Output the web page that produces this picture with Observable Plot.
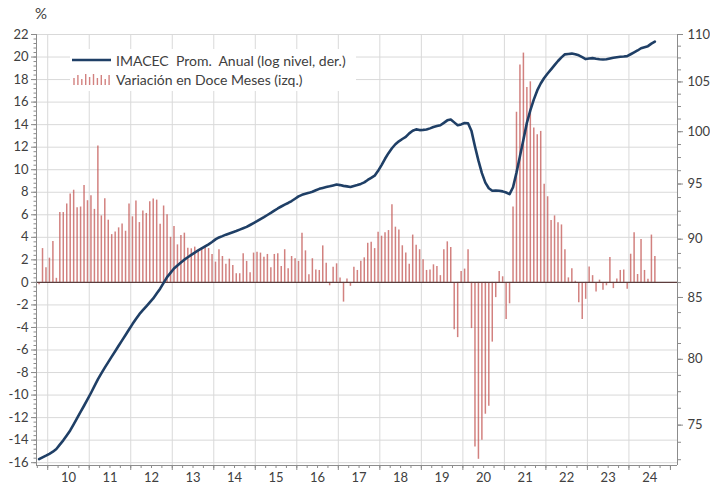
<!DOCTYPE html>
<html><head><meta charset="utf-8">
<script src="https://cdn.jsdelivr.net/npm/d3@7"></script>
<script src="https://cdn.jsdelivr.net/npm/@observablehq/plot@0.6"></script>
<style>
body{margin:0;background:#fff;font-family:Lato,"Open Sans",sans-serif;}
#wrap{position:relative;width:710px;height:484px;overflow:hidden;}
#pct{position:absolute;left:35px;top:4px;font-size:15px;color:#404040;}
#legend{position:absolute;left:70px;top:49px;width:286px;height:42px;background:#fff;font-size:14px;color:#404040;white-space:pre;}
.row{position:absolute;left:2px;height:20px;display:flex;align-items:center;}
.row span{margin-left:5px;}
</style></head><body>
<div id="wrap"><div id="chart"></div><div id="pct">%</div>
<div id="legend">
 <div class="row" style="top:1px"><svg width="39" height="12"><line x1="0" x2="39" y1="6" y2="6" stroke="#1f3f66" stroke-width="2.6"/></svg><span>IMACEC  Prom.  Anual (log nivel, der.)</span></div>
 <div class="row" style="top:20px"><svg id="barIcon" width="39" height="14"></svg><span>Variación en Doce Meses (izq.)</span></div>
</div></div>
<script>
// Monthly series, Oct 2009 .. Aug 2024
const startYear = 2009, startMonth = 10;
// 12-month variation (%), left axis
const barValues = [
 -0.2, 3.0, 1.3,
 2.15, 3.64, 0.36, 6.2, 6.2, 6.96, 7.85, 8.18, 6.63, 6.69, 8.6, 7.25,
 7.7, 6.48, 12.1, 5.9, 7.43, 5.52, 4.24, 4.48, 4.84, 5.19, 4.54, 6.96,
 5.82, 7.22, 5.31, 6.33, 6.12, 7.16, 7.4, 7.3, 5.15, 6.78, 6.0, 4.0,
 4.96, 3.33, 4.16, 4.37, 3.04, 2.98, 3.13, 2.74, 3.04, 3.2, 3.0, 2.48,
 1.8, 2.9, 2.3, 1.6, 2.06, 1.5, 0.77, 0.77, 2.54, 1.86, 0.86, 2.6,
 2.68, 2.6, 2.24, 2.48, 1.3, 2.48, 2.54, 1.42, 2.9, 1.2, 2.3, 2.1,
 1.86, 4.36, 2.8, 0.68, 2.1, 1.1, 1.06, 3.24, 1.7, -0.3, 1.35, 1.65,
 0.4, -1.75, 0.3, -0.35, 1.35, 1.06, 1.88, 2.18, 3.47, 3.57, 3.0, 4.46,
 4.1, 4.4, 4.6, 6.9, 4.9, 4.66, 3.25, 2.6, 1.6, 4.2, 3.3, 2.9,
 2.0, 1.06, 1.1, 1.56, 1.4, 0.6, 2.9, 3.6, 3.1, -4.2, -4.9, 0.97,
 1.18, 2.9, -4.1, -14.6, -15.7, -14.0, -11.7, -11.0, -5.3, -1.35, 0.97, 0.5,
 -3.3, -1.9, 6.7, 15.1, 19.3, 20.35, 17.3, 17.8, 13.7, 13.1, 13.4, 8.7,
 7.6, 5.5, 5.9, 5.3, 5.1, 2.9, 0.4, 1.2, 0.1, -1.8, -3.3, -1.5,
 1.36, 0.6, -0.86, 0.2, -0.7, -0.3, 2.2, -0.55, 0.3, 1.06, 1.1, -0.6,
 2.5, 4.4, 0.7, 3.8, 1.06, 0.27, 4.2, 2.3
];
// IMACEC annual average (level, log scale), right axis
const levelValues = [
 72.54, 72.67, 72.79,
 72.92, 73.07, 73.27, 73.58, 73.89, 74.25, 74.61, 75.06, 75.52, 75.98, 76.44, 76.91,
 77.40, 77.92, 78.44, 78.90, 79.35, 79.78, 80.21, 80.63, 81.07, 81.50, 81.93, 82.37,
 82.81, 83.22, 83.62, 83.95, 84.27, 84.60, 84.92, 85.33, 85.74, 86.22, 86.71, 87.08,
 87.45, 87.71, 87.96, 88.21, 88.42, 88.62, 88.82, 89.01, 89.19, 89.37, 89.55, 89.75,
 89.98, 90.15, 90.27, 90.40, 90.51, 90.62, 90.72, 90.85, 90.97, 91.09, 91.26, 91.43,
 91.60, 91.79, 91.97, 92.16, 92.35, 92.55, 92.75, 92.93, 93.10, 93.25, 93.43, 93.64,
 93.86, 94.00, 94.09, 94.18, 94.29, 94.42, 94.55, 94.64, 94.72, 94.79, 94.87, 94.95,
 94.90, 94.83, 94.78, 94.73, 94.82, 94.90, 95.01, 95.15, 95.38, 95.58, 95.78, 96.24,
 96.78, 97.38, 97.92, 98.39, 98.78, 99.06, 99.29, 99.50, 99.84, 100.09, 100.23, 100.16,
 100.18, 100.21, 100.33, 100.46, 100.55, 100.64, 100.87, 101.12, 101.21, 100.92, 100.64, 100.72,
 100.86, 100.84, 100.06, 98.56, 97.20, 96.02, 95.13, 94.61, 94.38, 94.39, 94.37, 94.32,
 94.21, 94.06, 94.70, 96.07, 97.62, 99.22, 100.87, 102.11, 103.20, 104.13, 104.84, 105.40,
 105.87, 106.30, 106.74, 107.18, 107.56, 107.88, 107.92, 107.96, 107.89, 107.78, 107.58, 107.38,
 107.44, 107.48, 107.42, 107.37, 107.34, 107.37, 107.45, 107.53, 107.58, 107.62, 107.65, 107.69,
 107.89, 108.09, 108.29, 108.53, 108.64, 108.75, 109.02, 109.24
];
const yearStarts = [2010,2011,2012,2013,2014,2015,2016,2017,2018,2019,2020,2021,2022,2023,2024,2025];
const yearLabels = ["10","11","12","13","14","15","16","17","18","19","20","21","22","23","24"];
const leftTicks = [-16,-14,-12,-10,-8,-6,-4,-2,0,2,4,6,8,10,12,14,16,18,20,22];
const rightTicks = [75,80,85,90,95,100,105,110];

const yDomain = [-16.25, 22];
const rightDomain = [72.09, 110];      // right (log) axis range matching yDomain
const xDomain = [2009.73, 2025.17];
const toLeft = d3.scaleLog().domain(rightDomain).range(yDomain);

const data = barValues.map((v, i) => ({
  t: startYear + (startMonth - 1 + i + 0.5) / 12,
  bar: v,
  level: levelValues[i]
}));
const leftMinor = d3.range(-16, 22.001, 0.4);
const rightMinor = d3.range(72.5, 109.9, 1.25).map(toLeft);
const quarterTicks = d3.range(2009.75, 2025.2, 0.25);
const yearMids = yearStarts.slice(0, -1).map(y => y + 0.5);
const axisGrey = "#8c8c8c";

const chart = Plot.plot({
  width: 710, height: 484,
  marginLeft: 36, marginRight: 33, marginTop: 34, marginBottom: 19,
  x: {domain: xDomain},
  y: {domain: yDomain},
  style: {fontFamily: "Lato, 'Open Sans', sans-serif", fontSize: "13px", color: "#404040", background: "#fff"},
  marks: [
    Plot.ruleY(leftTicks, {stroke: "#d9d9d9"}),
    Plot.ruleX(yearStarts.slice(0, -1), {stroke: "#d9d9d9"}),
    Plot.ruleX(data, {x: "t", y1: 0, y2: "bar", stroke: "#c0504d", strokeOpacity: 0.72, strokeWidth: 1.5}),
    Plot.ruleY([0], {stroke: "#5c3d3d", strokeWidth: 1.2}),
    Plot.line(data, {x: "t", y: d => toLeft(d.level), stroke: "#1f3f66", strokeWidth: 2.6}),
    Plot.ruleX(xDomain, {stroke: axisGrey}),
    Plot.ruleY([yDomain[0]], {stroke: axisGrey}),
    Plot.axisY({ticks: leftTicks, tickSize: 5, tickPadding: 3, label: null, stroke: axisGrey, fill: "#404040", tickFormat: d => String(d)}),
    Plot.axisY({ticks: leftMinor, tickSize: 2.5, label: null, stroke: axisGrey, tickFormat: () => ""}),
    Plot.axisY({anchor: "right", ticks: rightTicks.map(toLeft), tickSize: 5, tickPadding: 5, label: null, stroke: axisGrey, fill: "#404040",
      tickFormat: d => String(Math.round(toLeft.invert(d)))}),
    Plot.axisY({anchor: "right", ticks: rightMinor, tickSize: 3, label: null, stroke: axisGrey, tickFormat: () => ""}),
    Plot.axisX({ticks: yearStarts, tickSize: 5, label: null, stroke: axisGrey, tickFormat: () => ""}),
    Plot.axisX({ticks: quarterTicks, tickSize: 3, label: null, stroke: axisGrey, tickFormat: () => ""}),
    Plot.axisX({ticks: yearMids, tickSize: 0, tickPadding: 7, label: null, fill: "#404040",
      tickFormat: d => yearLabels[Math.floor(d) - 2010]})
  ]
});
document.getElementById("chart").appendChild(chart);

// legend swatch of small bars
const icon = d3.select("#barIcon");
const iconHeights = [7, 10, 6, 11, 8, 11, 7, 10, 6, 10];
iconHeights.forEach((h, i) => {
  icon.append("line").attr("x1", 2 + i * 3.9).attr("x2", 2 + i * 3.9)
    .attr("y1", 13).attr("y2", 13 - h)
    .attr("stroke", "#c0504d").attr("stroke-opacity", 0.72).attr("stroke-width", 1.4);
});
</script>
</body></html>
